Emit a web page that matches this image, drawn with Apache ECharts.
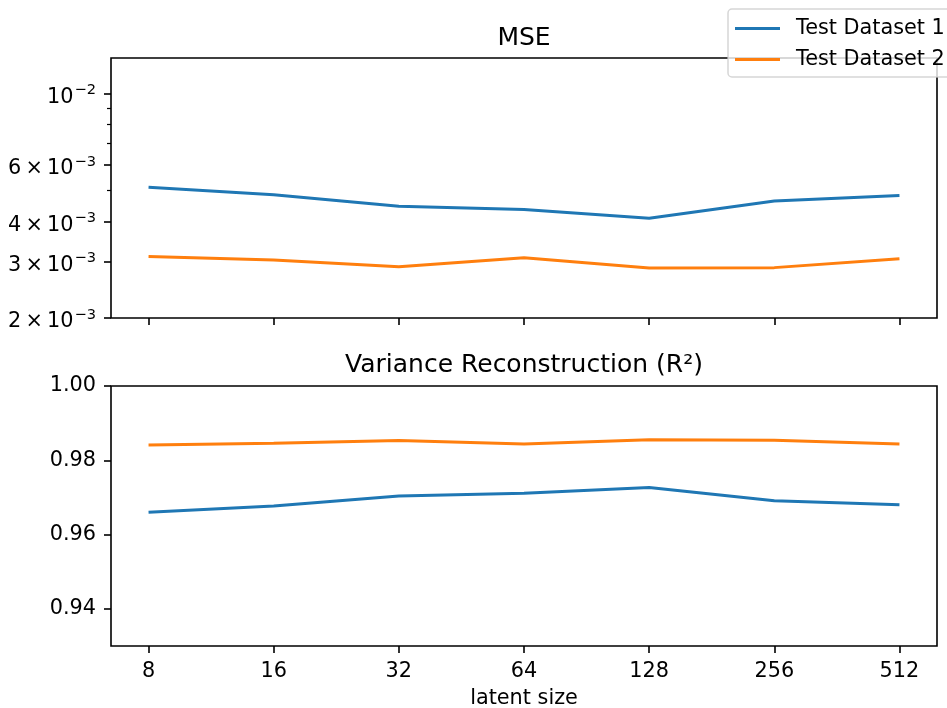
<!DOCTYPE html>
<html>
<head>
<meta charset="utf-8">
<script src="https://cdn.jsdelivr.net/npm/echarts@6/dist/echarts.min.js"></script>
<style>
    html, body { margin: 0; padding: 0; background: #fff; }
    #chart { width: 947px; height: 708px; }
</style>
</head>
<body>
<div id="chart"></div>
<script type="text/javascript">

    // latent sizes on the x axis
    var latentSizes = [8, 16, 32, 64, 128, 256, 512];

    // MSE (log scale)
    var mseSet1 = [0.00511, 0.00484, 0.00446, 0.00435, 0.00409, 0.00463, 0.00481];
    var mseSet2 = [0.00311, 0.00303, 0.00289, 0.00308, 0.00286, 0.00287, 0.00306];

    // variance reconstruction R^2
    var r2Set1 = [0.9660, 0.9677, 0.9704, 0.9711, 0.9727, 0.9691, 0.9680];
    var r2Set2 = [0.9841, 0.9846, 0.9853, 0.9844, 0.9855, 0.9854, 0.9844];

    var seriesNames = ['Test Dataset 1', 'Test Dataset 2'];

    // tick labels (thin spaces around the times sign)
    var mseTicks = [0.002, 0.003, 0.004, 0.006, 0.01];
    var mseTickLabels = [
        '{m|2\u2009×\u200910}{e|−3}',
        '{m|3\u2009×\u200910}{e|−3}',
        '{m|4\u2009×\u200910}{e|−3}',
        '{m|6\u2009×\u200910}{e|−3}',
        '{m|10}{e|−2}'
    ];
    var mseMinorTicks = [0.005, 0.007, 0.008, 0.009];
    var r2Ticks = [0.94, 0.96, 0.98, 1.00];

    var FONT = 'DejaVu Sans';
    var TICK_FS = 20.8;
    var BLUE = '#1f77b4', ORANGE = '#ff7f0e';

    function pairs(xs, ys) {
        return xs.map(function (x, i) { return [x, ys[i]]; });
    }

    function nearestIndex(list, v) {
        var best = 0;
        for (var i = 1; i < list.length; i++) {
            if (Math.abs(list[i] - v) < Math.abs(list[best] - v)) best = i;
        }
        return best;
    }

    var xMin = Math.pow(2, Math.log2(latentSizes[0]) - 0.3);
    var xMax = Math.pow(2, Math.log2(latentSizes[latentSizes.length - 1]) + 0.3);

    function xAxisFor(gridIndex, withLabels) {
        return {
            type: 'log',
            logBase: 2,
            gridIndex: gridIndex,
            min: xMin,
            max: xMax,
            axisLine: { show: false },
            splitLine: { show: false },
            axisTick: { show: true, length: 7, customValues: latentSizes, lineStyle: { color: '#000', width: 1.6 } },
            axisLabel: {
                show: withLabels,
                customValues: latentSizes,
                margin: 15,
                fontFamily: FONT, fontSize: TICK_FS, color: '#000',
                formatter: function (v) { return String(latentSizes[nearestIndex(latentSizes, v)]); }
            },
            name: withLabels ? 'latent size' : '',
            nameLocation: 'middle',
            nameGap: 42,
            nameTextStyle: { fontFamily: FONT, fontSize: TICK_FS, color: '#000' }
        };
    }

    var chart = echarts.init(document.getElementById('chart'));
    chart.setOption({
        animation: false,
        backgroundColor: '#fff',
        title: [
            { text: 'MSE', left: 524, top: 26, textAlign: 'center', padding: 0,
              textStyle: { fontFamily: FONT, fontSize: 25, fontWeight: 'normal', color: '#000' } },
            { text: 'Variance Reconstruction (R²)', left: 524, top: 353, textAlign: 'center', padding: 0,
              textStyle: { fontFamily: FONT, fontSize: 25, fontWeight: 'normal', color: '#000' } }
        ],
        legend: {
            data: seriesNames,
            orient: 'vertical',
            left: 728,
            top: 9,
            padding: [9, 10, 7, 7],
            itemGap: 10,
            itemWidth: 45,
            itemHeight: 3,
            icon: 'rect',
            backgroundColor: 'rgba(255,255,255,0.8)',
            borderColor: 'rgba(204,204,204,0.8)',
            borderWidth: 1.5,
            borderRadius: 4,
            textStyle: { fontFamily: FONT, fontSize: TICK_FS, color: '#000', lineHeight: 21, padding: [0, 0, 0, 11] }
        },
        grid: [
            { left: 111, right: 10, top: 58, height: 260, outerBoundsMode: 'none', containLabel: false,
              show: true, borderColor: '#000', borderWidth: 1.6, backgroundColor: 'transparent' },
            { left: 111, right: 10, top: 386, height: 260, outerBoundsMode: 'none', containLabel: false,
              show: true, borderColor: '#000', borderWidth: 1.6, backgroundColor: 'transparent' }
        ],
        xAxis: [xAxisFor(0, false), xAxisFor(1, true)],
        yAxis: [
            {
                type: 'log',
                logBase: 10,
                gridIndex: 0,
                position: 'left',
                min: 0.002,
                max: 0.0129,
                axisLine: { show: false },
                splitLine: { show: false },
                axisTick: { show: true, length: 7, customValues: mseTicks, lineStyle: { color: '#000', width: 1.6 } },
                axisLabel: {
                    customValues: mseTicks,
                    margin: 15,
                    padding: [8, 0, 0, 0],
                    color: '#000',
                    formatter: function (v) { return mseTickLabels[nearestIndex(mseTicks, v)]; },
                    rich: {
                        m: { fontFamily: FONT, fontSize: TICK_FS, color: '#000', lineHeight: 21, verticalAlign: 'bottom' },
                        e: { fontFamily: FONT, fontSize: 14.6, color: '#000', lineHeight: 15, verticalAlign: 'bottom', padding: [0, 0, 10, 1] }
                    }
                }
            },
            {
                // unlabeled minor ticks of the log axis
                type: 'log',
                logBase: 10,
                gridIndex: 0,
                position: 'left',
                min: 0.002,
                max: 0.0129,
                axisLine: { show: false },
                splitLine: { show: false },
                axisTick: { show: true, length: 4, customValues: mseMinorTicks, lineStyle: { color: '#000', width: 1.2 } },
                axisLabel: { show: false }
            },
            {
                type: 'value',
                gridIndex: 1,
                position: 'left',
                min: 0.93,
                max: 1.0,
                axisLine: { show: false },
                splitLine: { show: false },
                axisTick: { show: true, length: 7, customValues: r2Ticks, lineStyle: { color: '#000', width: 1.6 } },
                axisLabel: {
                    customValues: r2Ticks,
                    margin: 15,
                    padding: [8, 0, 0, 0],
                    fontFamily: FONT, fontSize: TICK_FS, color: '#000',
                    formatter: function (v) { return v.toFixed(2); }
                }
            }
        ],
        series: [
            { name: seriesNames[0], type: 'line', xAxisIndex: 0, yAxisIndex: 0, data: pairs(latentSizes, mseSet1),
              symbol: 'none', color: BLUE, lineStyle: { width: 3, color: BLUE } },
            { name: seriesNames[1], type: 'line', xAxisIndex: 0, yAxisIndex: 0, data: pairs(latentSizes, mseSet2),
              symbol: 'none', color: ORANGE, lineStyle: { width: 3, color: ORANGE } },
            { name: seriesNames[0], type: 'line', xAxisIndex: 1, yAxisIndex: 2, data: pairs(latentSizes, r2Set1),
              symbol: 'none', color: BLUE, lineStyle: { width: 3, color: BLUE } },
            { name: seriesNames[1], type: 'line', xAxisIndex: 1, yAxisIndex: 2, data: pairs(latentSizes, r2Set2),
              symbol: 'none', color: ORANGE, lineStyle: { width: 3, color: ORANGE } }
        ]
    });

</script>
</body>
</html>
